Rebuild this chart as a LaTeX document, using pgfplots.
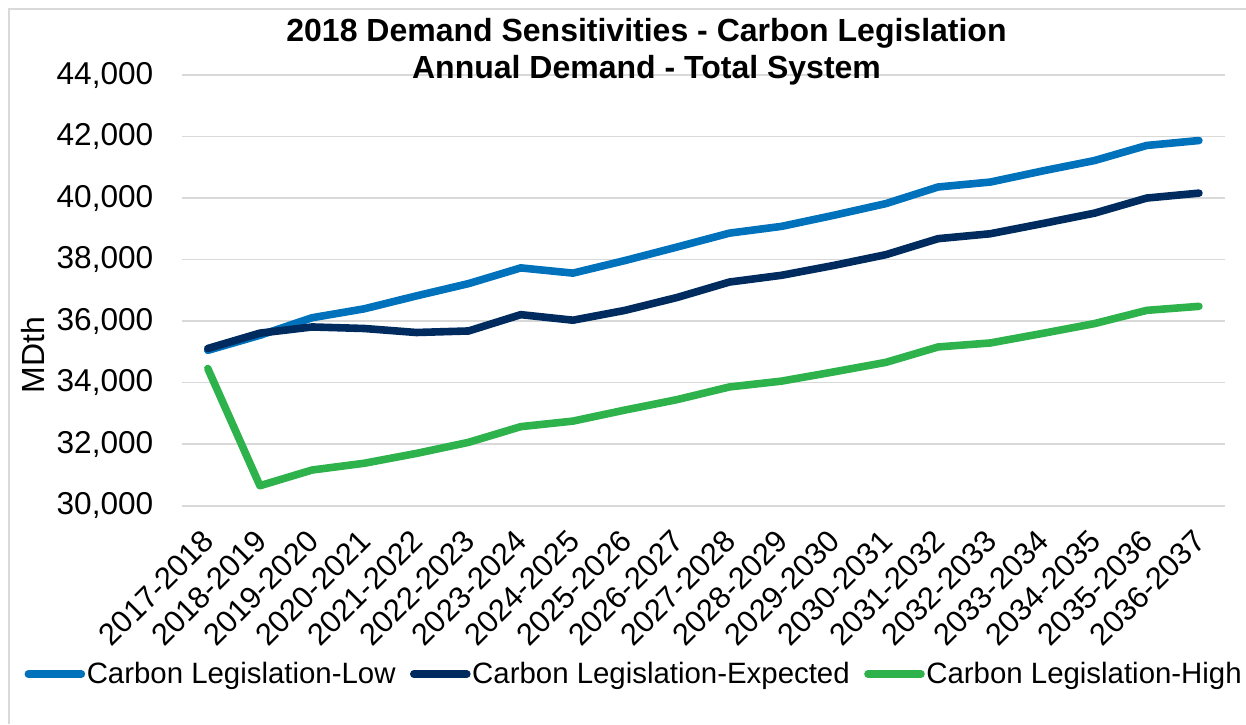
\documentclass[border=0pt]{standalone}
\usepackage{pgfplots}
\pgfplotsset{compat=1.18}
\usepackage{fontspec}
\setmainfont{Liberation Sans}

\definecolor{cLow}{HTML}{0072BC}
\definecolor{cExp}{HTML}{002B5F}
\definecolor{cHigh}{HTML}{2EB24C}
\definecolor{gridgray}{HTML}{D9D9D9}

\begin{document}
\begin{tikzpicture}
\path[use as bounding box] (0,0) rectangle (623pt,362pt);
\draw[gridgray, line width=0.8pt] (4.5pt,0pt) -- (4.5pt,357.5pt) -- (623pt,357.5pt);

\begin{axis}[
    at={(90.85pt,109.15pt)}, anchor=south west,
    scale only axis,
    width=521.65pt, height=215.35pt,
    xmin=-0.5, xmax=19.5,
    ymin=30000, ymax=44000,
    ytick={30000,32000,34000,36000,38000,40000,42000,44000},
    scaled y ticks=false,
    /pgf/number format/fixed,
    /pgf/number format/precision=0,
    /pgf/number format/1000 sep={,},
    /pgf/number format/assume math mode=true,
    yticklabel style={font=\fontsize{15.8}{18}\selectfont, inner sep=0pt, xshift=-14pt},
    xtick={0,...,19},
    xticklabels={2017-2018,2018-2019,2019-2020,2020-2021,2021-2022,2022-2023,2023-2024,2024-2025,2025-2026,2026-2027,2027-2028,2028-2029,2029-2030,2030-2031,2031-2032,2032-2033,2033-2034,2034-2035,2035-2036,2036-2037},
    xticklabel style={font=\fontsize{15.4}{18}\selectfont, xshift=0.5pt, yshift=-15pt, rotate=45, anchor=east, inner sep=0pt},
    ymajorgrids=true,
    major grid style={gridgray, line width=0.8pt},
    axis line style={draw=none},
    major tick length=0pt,
    clip=false,
    legend columns=3,
    legend style={draw=none, fill=none, at={(0.4335,-0.3908)}, anchor=center,
        font=\fontsize{14.7}{17}\selectfont,
        nodes={inner sep=0.8pt},
        /tikz/every even column/.append style={column sep=6.4pt}},
    legend image code/.code={\draw[#1, line cap=round] (1.5pt,0pt) -- (28pt,0pt);},
    every axis plot/.append style={line width=3.8pt, line cap=round, line join=round},
]
\addplot[cLow] coordinates {
(0,35050)(1,35540)(2,36110)(3,36400)(4,36820)(5,37220)(6,37730)(7,37560)(8,37970)(9,38410)
(10,38860)(11,39080)(12,39440)(13,39820)(14,40360)(15,40520)(16,40880)(17,41220)(18,41710)(19,41870)};
\addlegendentry{Carbon Legislation-Low}
\addplot[cExp] coordinates {
(0,35110)(1,35610)(2,35810)(3,35760)(4,35630)(5,35680)(6,36210)(7,36030)(8,36350)(9,36770)
(10,37270)(11,37490)(12,37810)(13,38160)(14,38680)(15,38840)(16,39170)(17,39510)(18,40000)(19,40160)};
\addlegendentry{Carbon Legislation-Expected}
\addplot[cHigh] coordinates {
(0,34460)(1,30650)(2,31160)(3,31380)(4,31700)(5,32060)(6,32570)(7,32750)(8,33110)(9,33450)
(10,33860)(11,34050)(12,34350)(13,34660)(14,35160)(15,35290)(16,35600)(17,35920)(18,36350)(19,36480)};
\addlegendentry{Carbon Legislation-High}
\end{axis}

\node[align=center, font=\fontsize{16}{18.5}\selectfont\bfseries, inner sep=0pt] at (323.25pt,336.25pt)
  {2018 Demand Sensitivities - Carbon Legislation\\Annual Demand - Total System};
\node[rotate=90, font=\fontsize{16}{18}\selectfont, inner sep=0pt] at (16.5pt,184.5pt) {MDth};
\end{tikzpicture}
\end{document}
